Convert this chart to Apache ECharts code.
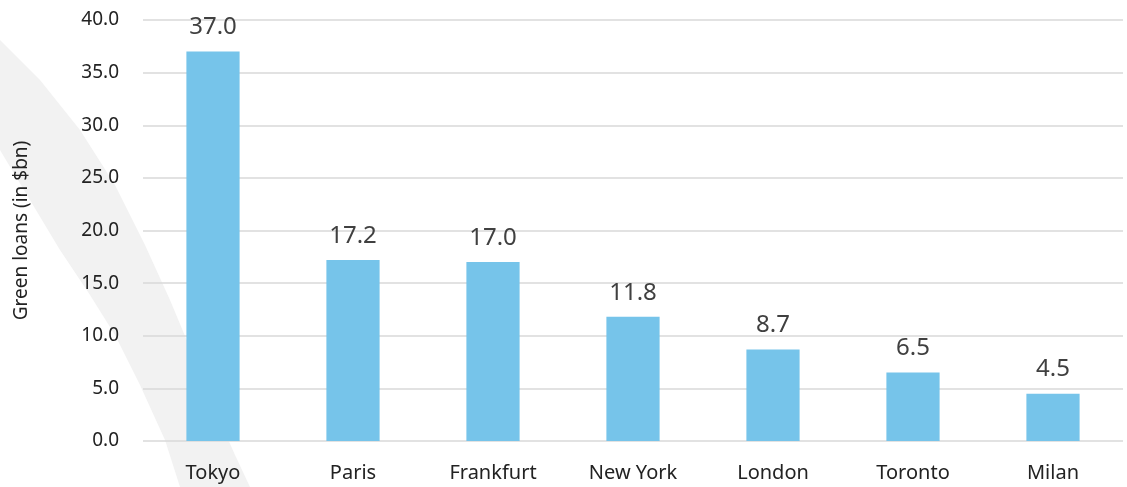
<!DOCTYPE html>
<html>
<head>
<meta charset="utf-8">
<script src="https://cdn.jsdelivr.net/npm/echarts@6/dist/echarts.min.js"></script>
<style>
html,body{margin:0;padding:0;background:#fff;}
#container{width:1127px;height:487px;}
</style>
</head>
<body>
<div id="container"></div>
<script>
var cities = ['Tokyo', 'Paris', 'Frankfurt', 'New York', 'London', 'Toronto', 'Milan'];
var loans = [37.0, 17.2, 17.0, 11.8, 8.7, 6.5, 4.5];

var barColor = '#76c4ea';
var myChart = echarts.init(document.getElementById('container'));

var option = {
    backgroundColor: '#fff',
    textStyle: {fontFamily: 'Noto Sans'},
    graphic: [{
        // decorative grey swoosh in the background
        type: 'polygon',
        z: -10,
        silent: true,
        shape: {
            points: [[0, 40], [40, 80], [80, 130], [115, 185], [145, 245], [170, 300],
                     [195, 360], [215, 410], [235, 455], [250, 487],
                     [180, 487], [165, 440], [140, 385], [115, 335], [90, 295],
                     [60, 250], [30, 200], [0, 150]]
        },
        style: {fill: '#f2f2f2'}
    }],
    grid: {left: 143, right: 4, top: 20, bottom: 46},
    xAxis: {
        type: 'category',
        data: cities,
        axisLine: {show: false},
        axisTick: {show: false},
        axisLabel: {color: '#222', fontSize: 20, margin: 22}
    },
    yAxis: {
        type: 'value',
        min: 0,
        max: 40,
        interval: 5,
        name: 'Green loans (in $bn)',
        nameLocation: 'middle',
        nameGap: 112,
        nameTextStyle: {color: '#222', fontSize: 19},
        axisLabel: {
            color: '#222',
            fontSize: 19,
            margin: 24,
            formatter: function (v) { return v.toFixed(1); }
        },
        splitLine: {lineStyle: {color: '#d9d9d9', width: 1.5}}
    },
    series: [{
        type: 'bar',
        data: loans,
        barWidth: '38%',
        itemStyle: {color: barColor},
        label: {
            show: true,
            position: 'top',
            distance: 12,
            color: '#404040',
            fontSize: 24,
            formatter: function (p) { return p.value.toFixed(1); }
        }
    }]
};
myChart.setOption(option);
</script>
</body>
</html>
